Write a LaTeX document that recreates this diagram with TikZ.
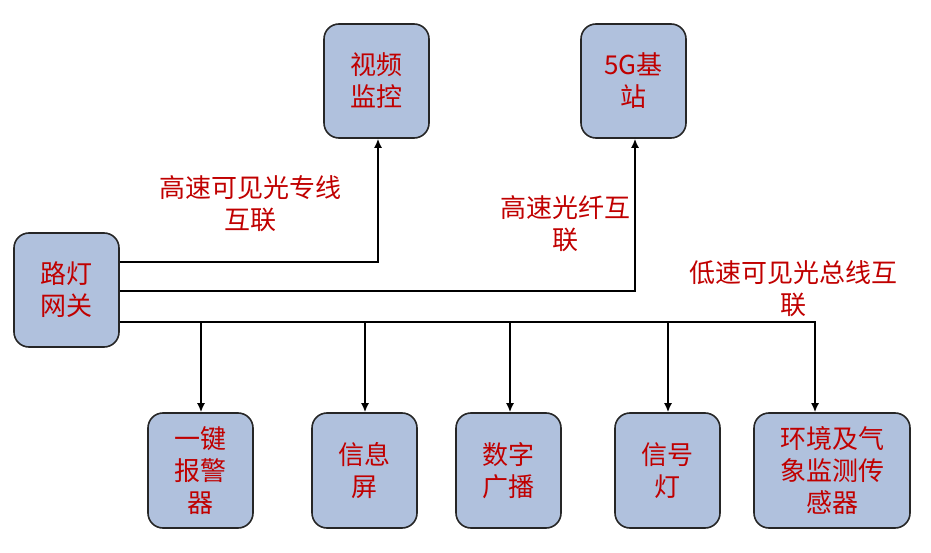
\documentclass[tikz,border=0pt]{standalone}
\usepackage{fontspec}
\setmainfont{Noto Sans CJK SC}
\usetikzlibrary{arrows.meta}
\definecolor{boxfill}{RGB}{176,193,221}
\definecolor{txtred}{RGB}{192,0,0}
\tikzset{
  box/.style={draw=black!85, line width=1.6pt, fill=boxfill, rounded corners=15pt, inner sep=0pt, text=txtred, align=center, font=\fontsize{26}{32}\selectfont},
  lbl/.style={text=txtred, align=center, font=\fontsize{26}{32}\selectfont, inner sep=0pt},
  conn/.style={draw=black, line width=1.6pt},
  arr/.style={conn, -{Latex[length=9pt,width=8pt]}}
}
\begin{document}
\begin{tikzpicture}[x=1pt,y=-1pt]
\useasboundingbox (0,0) rectangle (931,553);
\node[box, minimum width=105pt, minimum height=114pt] (gw) at (66.5,290) {路灯\\网关};
\node[box, minimum width=105pt, minimum height=114pt] (vid) at (376.5,81) {视频\\监控};
\node[box, minimum width=105pt, minimum height=114pt] (g5) at (633.5,81) {5G基\\站};
\node[box, minimum width=105pt, minimum height=115pt] (alarm) at (200.5,470.5) {一键\\报警\\器};
\node[box, minimum width=105pt, minimum height=115pt] (info) at (364.5,470.5) {信息\\屏};
\node[box, minimum width=105pt, minimum height=115pt] (bcast) at (508.5,470.5) {数字\\广播};
\node[box, minimum width=105pt, minimum height=115pt] (sig) at (667.5,470.5) {信号\\灯};
\node[box, minimum width=156pt, minimum height=115pt] (env) at (832,470.5) {环境及气\\象监测传\\感器};

\coordinate (c1) at (378,262);
\coordinate (c2) at (635,291);
\coordinate (c3) at (815,322);
\draw[arr] (gw.east |- c1) -- (c1) -- (c1 |- vid.south);
\draw[arr] (gw.east |- c2) -- (c2) -- (c2 |- g5.south);
\draw[arr] (gw.east |- c3) -- (c3) -- (c3 |- env.north);
\foreach \n/\x in {alarm/201,info/365,bcast/510,sig/668}{
  \coordinate (b\n) at (\x,322);
  \draw[arr] (b\n) -- (b\n |- \n.north);
}
\node[lbl] (l1) at (250,204) {高速可见光专线\\互联};
\node[lbl] (l2) at (565,224) {高速光纤互\\联};
\node[lbl] (l3) at (793,289) {低速可见光总线互\\联};
\end{tikzpicture}
\end{document}
